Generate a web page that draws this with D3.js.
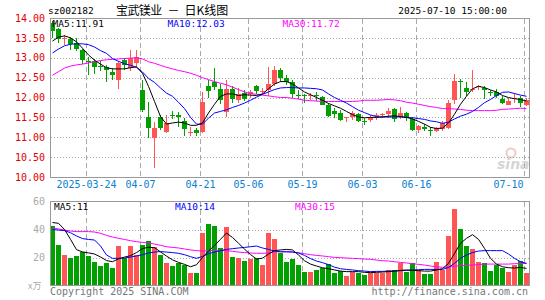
<!DOCTYPE html>
<html>
<head>
<meta charset="utf-8">
<script src="https://cdn.jsdelivr.net/npm/d3@7"></script>
<style>
body { margin: 0; background: #fff; }
svg { display: block; }
text { font-family: "DejaVu Sans Mono", monospace; }
</style>
</head>
<body>
<svg id="chart" width="545" height="300"></svg>
<script>
// daily candles, 80 trading days (2025-03-14 .. 2025-07-10)
const open  = [13.87,13.72,13.47,13.47,13.37,13.20,12.92,12.91,12.79,12.76,
               12.64,12.45,12.95,12.74,12.87,12.19,11.51,10.97,11.50,11.13,
               11.57,11.55,11.40,11.11,11.17,11.12,12.30,12.40,12.22,11.65,
               12.22,11.96,12.11,12.09,12.28,12.16,12.19,12.36,12.70,12.50,
               12.40,12.06,12.06,12.06,12.06,12.01,11.82,11.67,11.61,11.49,
               11.51,11.58,11.40,11.44,11.56,11.57,11.58,11.72,11.50,11.61,
               11.46,11.19,11.27,11.19,11.16,11.21,11.23,11.94,12.41,12.24,
               12.20,12.27,12.25,12.14,12.15,11.97,11.82,11.98,11.98,11.82];
const high  = [13.92,13.75,13.56,13.51,13.50,13.22,13.01,12.98,12.93,12.82,
               12.74,12.91,13.00,13.20,13.20,12.45,11.89,11.38,11.56,11.55,
               11.67,11.63,11.48,11.25,11.23,12.13,12.45,12.74,12.35,12.43,
               12.28,12.25,12.19,12.19,12.32,12.24,12.76,12.78,12.74,12.57,
               12.45,12.19,12.09,12.11,12.14,12.05,11.86,11.73,11.69,11.52,
               11.67,11.61,11.48,11.57,11.61,11.61,11.73,11.73,11.75,11.63,
               11.50,11.31,11.33,11.25,11.27,11.40,11.94,12.59,12.47,12.40,
               12.70,12.32,12.28,12.19,12.21,12.03,11.98,12.11,12.03,12.00];
const low   = [13.50,13.37,13.33,13.20,13.16,12.84,12.57,12.60,12.66,12.40,
               12.45,12.22,12.70,12.66,12.76,11.63,10.98,10.22,11.19,11.10,
               11.47,11.27,11.02,11.04,11.04,11.10,11.98,12.19,11.83,11.52,
               11.86,11.87,11.90,11.99,12.09,12.09,12.03,12.28,12.39,12.32,
               11.98,11.97,11.86,11.94,11.90,11.80,11.50,11.48,11.40,11.38,
               11.44,11.38,11.30,11.38,11.44,11.48,11.48,11.38,11.46,11.41,
               11.15,11.10,11.16,11.04,11.13,11.16,11.21,11.83,12.00,12.05,
               12.15,12.19,11.97,12.05,11.98,11.83,11.80,11.86,11.75,11.78];
const close = [13.66,13.47,13.49,13.35,13.22,12.95,12.90,12.75,12.77,12.68,
               12.56,12.87,12.82,12.99,13.01,11.69,11.23,11.23,11.23,11.35,
               11.56,11.50,11.19,11.12,11.09,11.88,12.17,12.28,11.94,12.22,
               11.97,12.10,11.96,12.14,12.15,12.17,12.34,12.70,12.49,12.40,
               12.09,12.05,12.05,12.07,12.04,11.82,11.55,11.60,11.44,11.50,
               11.62,11.41,11.39,11.52,11.57,11.58,11.65,11.46,11.61,11.50,
               11.19,11.29,11.23,11.18,11.23,11.36,11.86,12.42,12.40,12.14,
               12.21,12.28,12.19,12.13,12.05,11.88,11.92,11.99,11.86,11.94];
const volume = [42.7,28.9,21.8,19.9,21.1,23.9,21.1,17.0,13.9,16.3,
                12.7,28.2,19.9,28.2,21.8,28.9,31.8,27.3,21.8,16.3,
                13.9,16.3,14.6,9.2,9.2,37.7,44.1,42.7,27.0,42.0,
                20.6,19.9,17.7,18.7,19.9,14.6,37.7,33.4,23.4,17.0,
                18.9,14.6,9.9,9.9,11.1,12.3,15.4,9.2,10.4,6.8,
                9.9,8.7,7.5,8.7,8.7,8.7,11.1,11.1,15.8,9.9,
                16.3,11.1,8.2,8.2,17.0,11.1,35.4,54.6,40.4,28.2,
                26.1,17.0,16.3,10.6,14.6,12.7,9.9,14.6,17.5,9.2];

// moving averages as drawn on the chart
const ma5  = [13.42,13.52,13.55,13.50,13.40,13.24,13.07,12.94,12.84,12.75,
              12.72,12.72,12.72,12.75,12.77,12.61,12.28,11.90,11.52,11.33,
              11.36,11.38,11.36,11.30,11.30,11.36,11.61,11.83,12.03,12.09,
              12.09,12.05,12.07,12.06,12.05,12.09,12.22,12.34,12.40,12.40,
              12.34,12.24,12.14,12.07,12.00,11.93,11.85,11.79,11.73,11.65,
              11.57,11.51,11.49,11.50,11.50,11.51,11.53,11.54,11.52,11.50,
              11.46,11.40,11.33,11.25,11.22,11.23,11.36,11.58,11.83,12.03,
              12.22,12.28,12.25,12.19,12.14,12.05,12.00,11.97,11.95,11.91];
const ma10 = [13.12,13.22,13.30,13.34,13.35,13.35,13.33,13.27,13.18,13.11,
              12.98,12.91,12.85,12.81,12.76,12.64,12.48,12.38,12.24,12.11,
              12.03,11.88,11.72,11.50,11.33,11.33,11.48,11.61,11.65,11.69,
              11.75,11.80,11.86,11.93,12.01,12.08,12.14,12.20,12.24,12.25,
              12.25,12.24,12.24,12.23,12.22,12.19,12.09,12.00,11.93,11.86,
              11.77,11.68,11.62,11.56,11.52,11.51,11.51,11.51,11.51,11.50,
              11.49,11.47,11.45,11.41,11.39,11.35,11.38,11.46,11.53,11.58,
              11.65,11.75,11.87,11.95,12.05,12.13,12.14,12.10,12.06,12.03];
const ma30 = [12.56,12.65,12.74,12.79,12.82,12.84,12.87,12.90,12.93,12.95,
              12.96,12.97,12.98,12.99,13.00,12.97,12.90,12.86,12.81,12.76,
              12.72,12.68,12.65,12.61,12.56,12.50,12.45,12.40,12.36,12.32,
              12.26,12.20,12.14,12.10,12.08,12.06,12.04,12.02,12.00,12.00,
              11.98,11.96,11.93,11.92,11.91,11.90,11.90,11.90,11.90,11.90,
              11.90,11.91,11.93,11.93,11.93,11.94,11.95,11.94,11.92,11.88,
              11.86,11.83,11.80,11.77,11.75,11.72,11.72,11.71,11.70,11.68,
              11.67,11.67,11.67,11.67,11.68,11.70,11.71,11.72,11.73,11.72];
const vma5  = [45.0,44.4,40.0,33.0,25.6,24.0,23.3,22.5,20.4,17.8,
               17.0,19.0,20.3,21.3,23.5,26.4,27.3,27.0,24.0,21.0,
               18.3,16.5,15.1,13.4,14.8,20.0,24.6,28.6,33.0,37.5,
               34.3,30.2,26.0,22.1,18.9,19.5,22.5,24.9,25.4,25.8,
               25.4,21.8,17.7,15.3,13.9,12.7,12.0,11.1,10.3,9.9,
               9.9,9.9,9.4,9.2,9.4,9.6,9.9,10.3,10.8,11.1,
               10.8,10.6,10.3,10.3,11.1,12.0,15.8,22.9,30.1,33.7,
               36.3,33.0,26.5,19.4,15.3,13.4,12.7,12.5,12.9,12.2];
const vma10 = [39.9,39.6,39.2,37.7,35.4,33.5,32.9,32.5,28.2,21.8,
               19.4,19.4,19.6,20.3,21.1,22.0,23.2,23.9,24.2,23.9,
               23.5,23.0,22.0,20.6,19.4,20.8,22.7,23.9,24.9,25.8,
               26.3,26.8,27.2,27.7,28.2,26.8,25.8,24.6,24.1,24.1,
               23.9,23.2,21.5,19.2,17.5,16.3,14.9,13.1,12.0,11.5,
               11.1,10.6,10.3,9.9,10.1,10.1,10.3,10.3,10.6,10.8,
               11.1,11.3,11.5,11.5,11.5,11.5,12.9,15.8,19.4,21.8,
               23.5,24.6,24.9,24.9,24.9,24.9,22.5,19.4,17.0,15.8];
const vma30 = [41.1,40.4,39.6,38.9,38.5,38.5,38.5,38.2,37.3,35.8,
               34.6,33.7,32.9,32.0,31.3,30.8,30.3,29.6,28.7,27.7,
               27.2,26.8,26.1,25.4,24.9,24.6,24.9,25.1,25.1,24.9,
               24.4,23.9,23.5,23.2,23.0,23.0,23.2,24.1,24.1,24.1,
               23.9,23.4,22.7,22.0,21.5,21.1,20.6,20.1,19.9,19.6,
               19.4,19.2,18.9,18.7,18.2,17.7,17.5,17.0,16.5,16.1,
               15.6,15.1,14.6,13.9,13.4,13.0,13.2,13.7,14.2,14.4,
               14.6,14.9,15.3,15.3,15.3,15.3,15.3,15.6,15.6,15.8];

// axis ticks and labels
const priceTicks = [10, 10.5, 11, 11.5, 12, 12.5, 13, 13.5, 14];
const volTicks = [20, 40, 60];
const dateTickIdx = [6, 15, 25, 33, 42, 52, 61, 79];
const dateTickLabels = ["2025-03-24", "04-07", "04-21", "05-06", "05-19", "06-03", "06-16", "07-10"];
const priceLegend = ["MA5:11.91", "MA10:12.03", "MA30:11.72"];
const volLegend = ["MA5:11", "MA10:14", "MA30:15"];

const RED = "#ff5555", GREEN = "#00a000";
const svg = d3.select("#chart");

const x = d3.scaleLinear().domain([0, 80]).range([50, 530]);
const yP = d3.scaleLinear().domain([10, 14]).range([177, 18]);
const yV = d3.scaleLinear().domain([0, 60]).range([285.5, 201.5]);
const cx = i => x(i) + 2.5;
const px = v => Math.round(v) + 0.5;

// header
svg.append("text").attr("x", 48).attr("y", 14).attr("font-size", 9.5).attr("fill", "#000").text("sz002182");
const title = svg.append("text").attr("y", 14.5).attr("font-size", 12)
  .style("font-family", "'Noto Sans CJK SC', sans-serif").attr("fill", "#000");
title.append("tspan").attr("x", 116).attr("letter-spacing", -0.6).text("宝武镁业");
title.append("tspan").attr("x", 167.5).text("－");
title.append("tspan").attr("x", 184.5).text("日K线图");
svg.append("text").attr("x", 507).attr("y", 14).attr("font-size", 9.5).attr("text-anchor", "end")
  .attr("fill", "#000").text("2025-07-10 15:00:00");

// grids, main panel
const grid = svg.append("g");
grid.selectAll(".hg").data(priceTicks.filter(d => d > 10 && d < 14)).join("line")
  .attr("x1", 51).attr("x2", 529).attr("y1", d => px(yP(d))).attr("y2", d => px(yP(d)))
  .attr("stroke", "#aaa").attr("stroke-dasharray", "1,2");
grid.selectAll(".vg").data(dateTickIdx).join("line")
  .attr("x1", d => px(x(d))).attr("x2", d => px(x(d))).attr("y1", 19).attr("y2", 177)
  .attr("stroke", "#aaa").attr("stroke-dasharray", "5,3");
// grids, volume panel
grid.selectAll(".hv").data(volTicks.filter(d => d < 60)).join("line")
  .attr("x1", 51).attr("x2", 529).attr("y1", d => px(yV(d))).attr("y2", d => px(yV(d)))
  .attr("stroke", "#aaa").attr("stroke-dasharray", "1,2");
grid.selectAll(".vv").data(dateTickIdx).join("line")
  .attr("x1", d => px(x(d))).attr("x2", d => px(x(d))).attr("y1", 202).attr("y2", 285)
  .attr("stroke", "#aaa").attr("stroke-dasharray", "5,3");

// watermark
const wm = svg.append("g").attr("opacity", 0.4);
wm.append("circle").attr("cx", 511).attr("cy", 153).attr("r", 4.5).attr("fill", "none")
  .attr("stroke", "#d08080").attr("stroke-width", 2);
wm.append("text").attr("x", 497).attr("y", 169).attr("font-size", 14).attr("font-weight", "bold")
  .attr("font-style", "italic").style("font-family", "'DejaVu Sans', sans-serif")
  .attr("fill", "#999").text("sina");

// candles
const idx = d3.range(close.length);
const candles = svg.append("g");
const col = i => close[i] >= open[i] ? RED : GREEN;
candles.selectAll("line").data(idx).join("line")
  .attr("x1", i => cx(i)).attr("x2", i => cx(i))
  .attr("y1", i => Math.round(yP(high[i]))).attr("y2", i => Math.round(yP(low[i])))
  .attr("stroke", col);
candles.selectAll("rect").data(idx).join("rect")
  .attr("x", i => x(i)).attr("width", 5)
  .attr("y", i => Math.round(yP(Math.max(open[i], close[i]))))
  .attr("height", i => Math.max(1, Math.round(Math.abs(yP(open[i]) - yP(close[i])))))
  .attr("fill", col);

// volume bars
svg.append("g").selectAll("rect").data(idx).join("rect")
  .attr("x", i => x(i)).attr("width", 5)
  .attr("y", i => Math.round(yV(volume[i])))
  .attr("height", i => 286 - Math.round(yV(volume[i])))
  .attr("fill", col);

// moving average lines
const lineP = d3.line().x((d, i) => cx(i)).y(d => yP(d));
const lineV = d3.line().x((d, i) => cx(i)).y(d => yV(d));
[[ma30, "#ff00ff"], [ma10, "#0000ff"], [ma5, "#000"]].forEach(([s, c]) => {
  svg.append("path").datum(s).attr("d", lineP).attr("fill", "none").attr("stroke", c).attr("stroke-width", 1);
});
[[vma30, "#ff00ff"], [vma10, "#0000ff"], [vma5, "#000"]].forEach(([s, c]) => {
  svg.append("path").datum(s).attr("d", lineV).attr("fill", "none").attr("stroke", c).attr("stroke-width", 1);
});

// frames
svg.append("rect").attr("x", 50.5).attr("y", 18.5).attr("width", 479).attr("height", 159)
  .attr("fill", "none").attr("stroke", "#999");
svg.append("rect").attr("x", 50.5).attr("y", 201.5).attr("width", 479).attr("height", 84)
  .attr("fill", "none").attr("stroke", "#999");

// legends
const legColors = ["#000", "#0000ff", "#ff00ff"];
svg.append("g").selectAll("text").data(priceLegend).join("text")
  .attr("x", (d, i) => [52.5, 167.5, 282.5][i]).attr("y", 26.5).attr("font-size", 9.5)
  .attr("fill", (d, i) => legColors[i]).text(d => d);
svg.append("g").selectAll("text").data(volLegend).join("text")
  .attr("x", (d, i) => [54, 175, 295][i]).attr("y", 210).attr("font-size", 9.5)
  .attr("fill", (d, i) => legColors[i]).text(d => d);

// price axis
const ax = svg.append("g").attr("transform", "translate(50,0)")
  .call(d3.axisLeft(yP).tickValues(priceTicks).tickFormat(d3.format(".2f")).tickSize(0).tickPadding(5));
ax.select(".domain").remove();
ax.selectAll("text").attr("fill", "#e00000").attr("font-size", 10).style("font-family", "'DejaVu Sans Mono', monospace");

// volume axis
const av = svg.append("g").attr("transform", "translate(50,0)")
  .call(d3.axisLeft(yV).tickValues(volTicks).tickSize(0).tickPadding(5));
av.select(".domain").remove();
av.selectAll("text").attr("fill", "#aaa").attr("font-size", 10).style("font-family", "'DejaVu Sans Mono', monospace");
svg.append("text").attr("x", 28).attr("y", 289).attr("font-size", 9).attr("fill", "#aaa")
  .style("font-family", "'Noto Sans CJK SC', sans-serif").text("x万");

// date axis
const ad = svg.append("g").attr("transform", "translate(0,177)")
  .call(d3.axisBottom(x).tickValues(dateTickIdx)
    .tickFormat(d => dateTickLabels[dateTickIdx.indexOf(d)]).tickSize(0).tickPadding(4));
ad.select(".domain").remove();
ad.selectAll("text").attr("fill", "#0a80d0").attr("font-size", 10).style("font-family", "'DejaVu Sans Mono', monospace");
ad.selectAll(".tick").filter(d => d === 79).select("text").attr("text-anchor", "end").attr("x", -1);

// footer
svg.append("text").attr("x", 50).attr("y", 295).attr("font-size", 10).attr("fill", "#777").text("Copyright 2025 SINA.COM");
svg.append("text").attr("x", 528).attr("y", 295).attr("font-size", 10).attr("text-anchor", "end")
  .attr("fill", "#777").text("http://finance.sina.com.cn");
</script>
</body>
</html>
